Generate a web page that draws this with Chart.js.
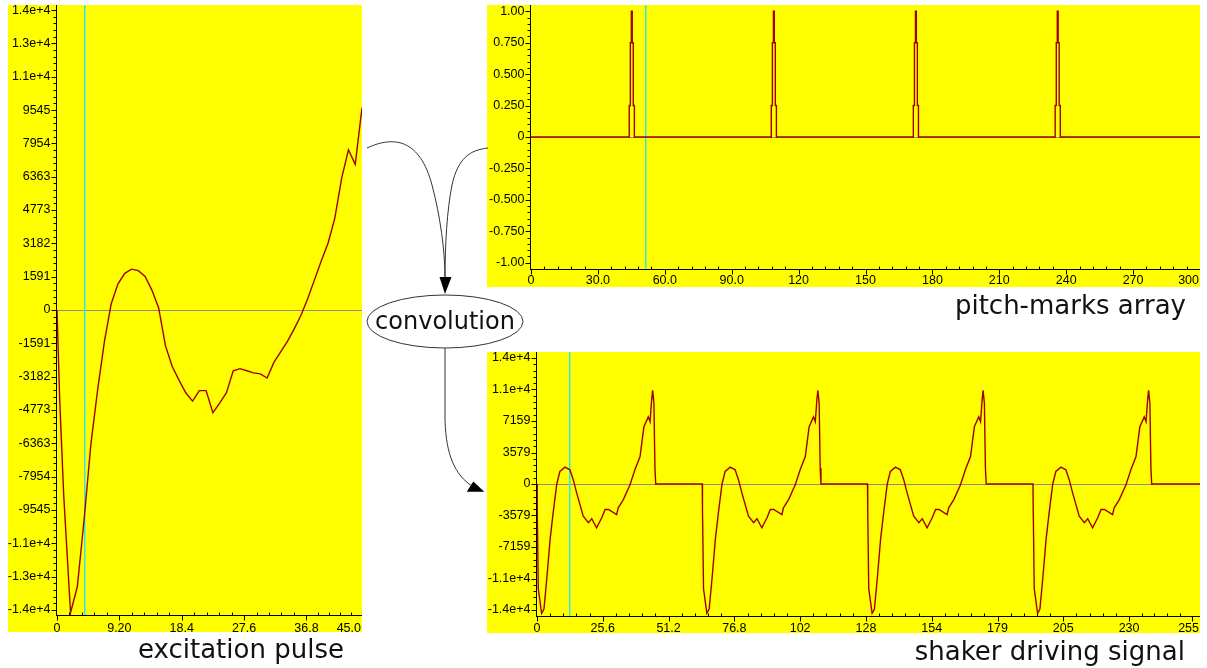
<!DOCTYPE html>
<html><head><meta charset="utf-8">
<script src="https://cdn.jsdelivr.net/npm/chart.js@4/dist/chart.umd.min.js"></script>
<style>
html,body{margin:0;padding:0;background:#fff;width:1207px;height:668px;overflow:hidden;}
.box{position:absolute;}
canvas{display:block}
.cap{position:absolute;font-family:"DejaVu Sans",sans-serif;font-size:26px;line-height:26px;color:#111;white-space:nowrap;}
svg{position:absolute;left:0;top:0}
</style></head><body>
<div class="box" style="left:8px;top:5px;width:354px;height:627px"><canvas id="c1"></canvas></div>
<div class="box" style="left:487px;top:5px;width:713px;height:282px"><canvas id="c2"></canvas></div>
<div class="box" style="left:487px;top:352px;width:713px;height:281px"><canvas id="c3"></canvas></div>
<svg width="1207" height="668">
  <path d="M367,148 C395,135 420,140 432,185 C440,215 445,250 445,278" fill="none" stroke="#333" stroke-width="1"/>
  <path d="M488,148 C470,150 458,158 452,185 C447,210 445,245 445,278" fill="none" stroke="#333" stroke-width="1"/>
  <polygon points="439.5,277 451.5,277 445,294" fill="#000"/>
  <ellipse cx="445" cy="321.5" rx="78" ry="26.5" fill="#fff" stroke="#333" stroke-width="1"/>
  <path d="M445,348 L445,420 C446,455 455,475 472,486" fill="none" stroke="#333" stroke-width="1"/>
  <polygon points="466.7,491.7 484.3,491.7 473.3,481.5" fill="#000"/>
</svg>
<div class="cap" style="left:445px;top:308px;font-size:24px;transform:translateX(-50%)">convolution</div>
<div class="cap" style="left:138px;top:636px">excitation pulse</div>
<div class="cap" style="right:21px;top:292px">pitch-marks array</div>
<div class="cap" style="right:22px;top:638px">shaker driving signal</div>
<script>
// ---------- excitation pulse ----------
const excX = [0,0.4,1,2,3,4,5,6,7,8,9,10,11,12,13,14,15,16,17,18,19,20,21,22,23,24,25,26,27,28,29,30,31,32,33,34,35,36,37,38,39,40,41,42,43,44,45];
const excY = [0,-4300,-8900,-14450,-13200,-10000,-6400,-3800,-1500,300,1250,1750,1950,1880,1600,950,100,-1700,-2700,-3350,-3950,-4350,-3850,-3850,-4900,-4450,-3950,-2900,-2800,-2900,-3000,-3050,-3250,-2500,-2000,-1500,-900,-250,550,1450,2350,3200,4400,6300,7650,6950,9650];
const excXTicks = [0,9.2,18.4,27.6,36.8,45];
const excXLabels = ['0','9.20','18.4','27.6','36.8','45.0'];
const excYTicks = [14318,12727,11136,9545,7954,6363,4773,3182,1591,0,-1591,-3182,-4773,-6363,-7954,-9545,-11136,-12727,-14318];
const excYLabels = ['1.4e+4','1.3e+4','1.1e+4','9545','7954','6363','4773','3182','1591','0','-1591','-3182','-4773','-6363','-7954','-9545','-1.1e+4','-1.3e+4','-1.4e+4'];
const excCursor = 4;

// ---------- pitch-marks array ----------
const pitchMarkCenters = [45.2,108.9,172.6,236.2];
const pitchMarkOffsets = [-1.4,-0.9,-0.4,0,0.4,0.9,1.4];
const pitchMarkLevels = [0,0.25,0.75,1,0.75,0.25,0];
const pitchXTicks = [0,30,60,90,120,150,180,210,240,270,300];
const pitchXLabels = ['0','30.0','60.0','90.0','120','150','180','210','240','270','300'];
const pitchYTicks = [1,0.75,0.5,0.25,0,-0.25,-0.5,-0.75,-1];
const pitchYLabels = ['1.00','0.750','0.500','0.250','0','-0.250','-0.500','-0.750','-1.00'];
const pitchCursor = 51.3;

// ---------- shaker driving signal ----------
const shakerOnsets = [0,64.3,128.6,193];
const shakerOffsets = [0,0.1,0.5,1.8,2.7,3.8,5.1,6.3,7.7,8.9,10.9,12.8,14.1,15.4,18.0,20.0,21.3,23.2,25.2,26.5,27.8,31.0,31.6,33.6,36.2,38.1,40.1,41.6,43.3,44.0,44.6,45.0,45.5,45.9,46.2];
const shakerValues = [0,-2900,-11900,-14700,-14200,-10800,-6300,-3250,0,1420,1920,1610,490,-980,-3660,-4400,-3950,-4970,-3840,-2900,-2900,-3470,-2710,-1770,-80,1610,3120,6500,7630,7070,9520,10650,9150,1800,0];
const shakerXTicks = [0,25.6,51.2,76.8,102.4,128,153.6,179.2,204.8,230.4,255];
const shakerXLabels = ['0','25.6','51.2','76.8','102','128','154','179','205','230','255'];
const shakerYTicks = [14318,10739,7159,3579,0,-3579,-7159,-10739,-14318];
const shakerYLabels = ['1.4e+4','1.1e+4','7159','3579','0','-3579','-7159','-1.1e+4','-1.4e+4'];
const shakerCursor = 12.4;

const TICK_FONT = '12.5px "Liberation Sans", Arial, sans-serif';
const LINE_COLOR = '#a00000';

const deco = {
  id: 'deco',
  beforeDraw(chart, args, o) {
    const c = chart.ctx; c.save(); c.fillStyle = '#ffff00'; c.fillRect(0, 0, chart.width, chart.height); c.restore();
  },
  beforeDatasetsDraw(chart, args, o) {
    const {ctx: c, chartArea: a, scales: {x, y}} = chart;
    c.save();
    c.fillStyle = '#8c8c8c';
    const y0 = Math.round(y.getPixelForValue(0));
    c.fillRect(a.left, y0, a.right - a.left, 1);
    c.fillStyle = '#33e6e6';
    const xc = Math.round(x.getPixelForValue(o.cursor));
    c.fillRect(xc, 0, 1.5, a.bottom);
    c.restore();
  },
  afterDraw(chart, args, o) {
    const {ctx: c, chartArea: a, scales: {x, y}} = chart;
    c.save();
    c.strokeStyle = '#000'; c.fillStyle = '#000'; c.lineWidth = 1;
    const L = Math.round(a.left) - 0.5, B = Math.round(a.bottom) + 0.5;
    c.beginPath();
    c.moveTo(L, 0); c.lineTo(L, B + 0.5);
    c.moveTo(L, B); c.lineTo(a.right, B);
    const yt = o.yTicks.slice().sort((p, q) => p - q);
    for (let i = 0; i < yt.length; i++) {
      const py = Math.round(y.getPixelForValue(yt[i])) + 0.5;
      c.moveTo(L - 5, py); c.lineTo(L, py);
      if (i < yt.length - 1) {
        for (let k = 1; k < 5; k++) {
          const pm = Math.round(y.getPixelForValue(yt[i] + (yt[i + 1] - yt[i]) * k / 5)) + 0.5;
          c.moveTo(L - 3, pm); c.lineTo(L, pm);
        }
      }
    }
    const xt = o.xTicks;
    for (let i = 0; i < xt.length; i++) {
      const px = Math.round(x.getPixelForValue(xt[i])) + 0.5;
      c.moveTo(px, B); c.lineTo(px, B + 5);
      if (i < xt.length - 1) {
        for (let k = 1; k < 5; k++) {
          const pm = Math.round(x.getPixelForValue(xt[i] + (xt[i + 1] - xt[i]) * k / 5)) + 0.5;
          c.moveTo(pm, B); c.lineTo(pm, B - 3);
        }
      }
    }
    c.stroke();
    c.font = TICK_FONT;
    c.textAlign = 'right'; c.textBaseline = 'middle';
    o.yTicks.forEach((v, i) => c.fillText(o.yLabels[i], L - 6, y.getPixelForValue(v)));
    c.textAlign = 'center'; c.textBaseline = 'alphabetic';
    o.xTicks.forEach((v, i) => {
      const w = c.measureText(o.xLabels[i]).width;
      let px = x.getPixelForValue(v);
      px = Math.min(px, chart.width - w / 2 - 1);
      c.fillText(o.xLabels[i], px, B + o.labelOffset);
    });
    c.restore();
  }
};

function makeChart(id, data, opts) {
  return new Chart(document.getElementById(id), {
    type: 'line',
    data: { datasets: [{ data, borderColor: LINE_COLOR, borderWidth: 1.4, pointRadius: 0, tension: 0, stepped: opts.stepped || false, fill: false }] },
    options: {
      responsive: true, maintainAspectRatio: false, animation: false,
      layout: { padding: { left: opts.padLeft, bottom: opts.padBottom, top: 0, right: 0 } },
      scales: {
        x: { type: 'linear', min: opts.xMin, max: opts.xMax, display: false },
        y: { type: 'linear', min: opts.yMin, max: opts.yMax, display: false }
      },
      plugins: {
        legend: { display: false }, tooltip: { enabled: false },
        deco: { cursor: opts.cursor, xTicks: opts.xTicks, xLabels: opts.xLabels, yTicks: opts.yTicks, yLabels: opts.yLabels, labelOffset: opts.labelOffset }
      }
    },
    plugins: [deco]
  });
}

const excData = excX.map((xv, i) => ({ x: xv, y: excY[i] }));
makeChart('c1', excData, { padLeft: 49, padBottom: 17, xMin: 0, xMax: 45, yMin: -14560, yMax: 14560,
  cursor: excCursor, xTicks: excXTicks, xLabels: excXLabels, yTicks: excYTicks, yLabels: excYLabels, labelOffset: 16 });

const pitchData = [{ x: 0, y: 0 }];
pitchMarkCenters.forEach(cx => pitchMarkOffsets.forEach((off, j) => pitchData.push({ x: cx + off, y: pitchMarkLevels[j] })));
pitchData.push({ x: 300, y: 0 });
makeChart('c2', pitchData, { padLeft: 44, padBottom: 18, xMin: 0, xMax: 300, yMin: -1.05, yMax: 1.05, stepped: 'middle',
  cursor: pitchCursor, xTicks: pitchXTicks, xLabels: pitchXLabels, yTicks: pitchYTicks, yLabels: pitchYLabels, labelOffset: 14 });

const shakerData = [];
shakerOnsets.forEach(on => shakerOffsets.forEach((off, j) => shakerData.push({ x: on + off, y: shakerValues[j] })));
shakerData.push({ x: 258, y: 0 });
makeChart('c3', shakerData, { padLeft: 50, padBottom: 17, xMin: 0, xMax: 258, yMin: -15000, yMax: 15000,
  cursor: shakerCursor, xTicks: shakerXTicks, xLabels: shakerXLabels, yTicks: shakerYTicks, yLabels: shakerYLabels, labelOffset: 15 });
</script>
</body></html>
